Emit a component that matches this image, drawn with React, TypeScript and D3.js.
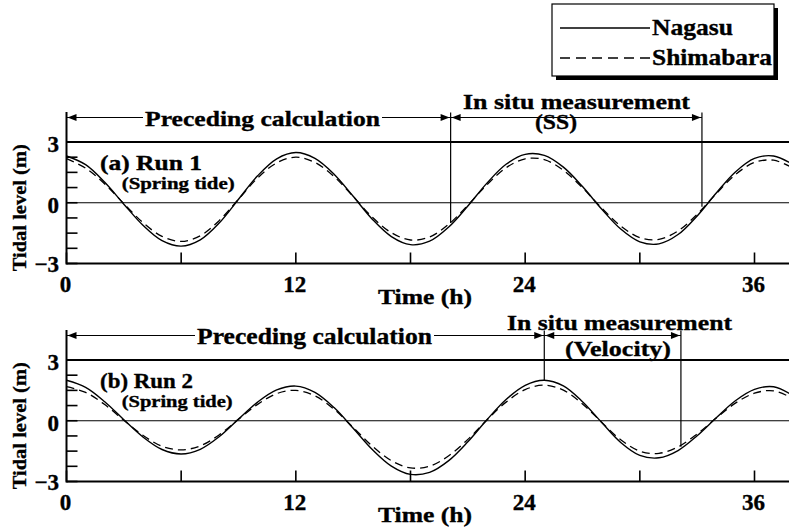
import React from 'react';
import * as d3 from 'd3';

// sample times (h)
const hours = d3.range(0, 39);

// Run 1 (spring tide), tidal level (m)
const run1Nagasu = [2.31, 1.88, 1.01, -0.07, -1.11, -1.87, -2.14, -1.83, -0.99, 0.17, 1.33, 2.17, 2.48, 2.19, 1.41, 0.32, -0.81, -1.67, -2.07, -1.90, -1.20, -0.16, 0.97, 1.90, 2.39, 2.34, 1.76, 0.80, -0.31, -1.30, -1.93, -2.03, -1.57, -0.65, 0.48, 1.52, 2.19, 2.31, 1.89];
const run1Shimabara = [2.18, 1.71, 0.93, -0.04, -0.98, -1.66, -1.91, -1.63, -0.87, 0.17, 1.22, 1.97, 2.25, 1.99, 1.29, 0.31, -0.71, -1.48, -1.84, -1.69, -1.06, -0.12, 0.89, 1.73, 2.17, 2.13, 1.60, 0.74, -0.26, -1.15, -1.72, -1.81, -1.39, -0.57, 0.45, 1.39, 1.99, 2.10, 1.72];

// Run 2 (spring tide)
const run2Nagasu = [2.00, 1.65, 0.94, 0.05, -0.80, -1.42, -1.64, -1.41, -0.78, 0.08, 0.92, 1.52, 1.71, 1.40, 0.65, -0.37, -1.42, -2.24, -2.65, -2.55, -1.97, -1.04, 0.05, 1.05, 1.75, 2.00, 1.72, 0.94, -0.08, -1.07, -1.71, -1.83, -1.47, -0.74, 0.15, 0.99, 1.55, 1.68, 1.25];
const run2Shimabara = [1.68, 1.40, 0.80, 0.02, -0.72, -1.26, -1.44, -1.24, -0.69, 0.07, 0.81, 1.34, 1.50, 1.23, 0.57, -0.33, -1.25, -1.97, -2.33, -2.24, -1.73, -0.92, 0.04, 0.92, 1.54, 1.76, 1.51, 0.83, -0.07, -0.94, -1.50, -1.61, -1.29, -0.65, 0.13, 0.87, 1.36, 1.48, 1.10];

// phase boundaries (h): start of preceding calc, start / end of in situ measurement
const run1Phases = [0, 20.1, 33.25];
const run2Phases = [0, 25.0, 32.15];
// tidal level where the marker lines stop
const run1Marks = [-1.0, -0.2];
const run2Marks = [2.0, -1.28];

const xTicks = [0, 6, 12, 18, 24, 30, 36];
const xTickLabels = [0, 12, 24, 36];
const yTicks = [-3, -2.25, -1.5, -0.75, 0, 0.75, 1.5, 2.25, 3];
const yTickLabels = [-3, 0, 3];

const FONT = '"Liberation Serif", "Times New Roman", Times, serif';
const W = 789;
const H = 530;

const x = d3.scaleLinear().domain([0, 36]).range([66.5, 754.5]);

const T = ({ x, y, size, w, anchor = 'middle', children, transform }: any) => (
  <text x={x} y={y} textAnchor={anchor}
    style={{ fontFamily: FONT, fontSize: size, fontWeight: 'bold' }}
    stroke="#000" strokeWidth={0.35}
    textLength={w} lengthAdjust={w ? 'spacingAndGlyphs' : undefined} transform={transform} fill="#000">
    {children}
  </text>
);

const head = (px: number, py: number, dir: number) =>
  `M${px},${py}L${px - dir * 9},${py - 3.5}L${px - dir * 9},${py + 3.5}Z`;

const Panel = ({ top, nag, shi, phases, marks, label, precCx, precW, precSize, situCx, situW, situY, subText, subCx, subW, subY }: any) => {
  const y = d3.scaleLinear().domain([-3, 3]).range([top + 121.5, top]);
  const arrowY = top - 24.5;
  const x0 = x(0);
  const line = d3.line<number>().x((_, i) => x(hours[i])).y(d => y(d)).curve(d3.curveCatmullRom.alpha(0.5));
  const xa = x(phases[1]);
  const xb = x(phases[2]);
  return (
    <g>
      {/* horizontal reference lines */}
      <line x1={x0} x2={W} y1={y(3)} y2={y(3)} stroke="#000" strokeWidth={2} />
      <line x1={x0} x2={W} y1={y(0)} y2={y(0)} stroke="#000" strokeWidth={1} />
      <line x1={x0} x2={W} y1={y(-3)} y2={y(-3)} stroke="#000" strokeWidth={2} />
      <line x1={x0} x2={x0} y1={y(-3) + 1} y2={arrowY - 5.5} stroke="#000" strokeWidth={2} />
      {yTicks.map(t => <line key={t} x1={x0} x2={x0 + 11} y1={y(t)} y2={y(t)} stroke="#000" strokeWidth={1.6} />)}
      {xTicks.map(t => <line key={t} x1={x(t)} x2={x(t)} y1={y(-3)} y2={y(-3) - 11} stroke="#000" strokeWidth={1.6} />)}
      {yTickLabels.map(t => (
        <T key={t} x={59} y={y(t) + (t === 3 ? 9.5 : t === 0 ? 10 : 8.5)} size={23} anchor="end">{t < 0 ? `\u2212${-t}` : t}</T>
      ))}
      {xTickLabels.map(t => <T key={t} x={x(t) - 1} y={y(-3) + 28.5} size={23}>{t}</T>)}
      <T x={425} y={y(-3) + 40} size={21} w={94}>Time (h)</T>
      <T x={26} y={y(0) + 5} size={19} w={127} transform={`rotate(-90,26,${y(0) + 5})`}>Tidal level (m)</T>

      {/* curves */}
      <path d={line(nag) || ''} fill="none" stroke="#000" strokeWidth={1.4} />
      <path d={line(shi) || ''} fill="none" stroke="#000" strokeWidth={1.3} strokeDasharray="8,5" />

      {/* phase arrows */}
      <line x1={x0} x2={precCx - precW / 2 - 2} y1={arrowY} y2={arrowY} stroke="#000" strokeWidth={1} />
      <line x1={precCx + precW / 2 + 2} x2={xa} y1={arrowY} y2={arrowY} stroke="#000" strokeWidth={1} />
      <path d={head(x0 + 1, arrowY, -1)} fill="#000" />
      <path d={head(xa - 1, arrowY, 1)} fill="#000" />
      <T x={precCx} y={arrowY + 8} size={precSize} w={precW}>Preceding calculation</T>
      <line x1={xa} x2={xb} y1={arrowY} y2={arrowY} stroke="#000" strokeWidth={1} />
      <path d={head(xa + 1, arrowY, -1)} fill="#000" />
      <path d={head(xb - 1, arrowY, 1)} fill="#000" />
      <line x1={xa} x2={xa} y1={arrowY - 5} y2={y(marks[0])} stroke="#000" strokeWidth={1.2} />
      <line x1={xb} x2={xb} y1={arrowY - 5} y2={y(marks[1])} stroke="#000" strokeWidth={1.2} />
      <T x={situCx} y={situY} size={22} w={situW}>In situ measurement</T>
      <T x={subCx} y={subY} size={22} w={subW}>{subText}</T>

      {/* run label */}
      <T x={100} y={top + 28} size={22} w={label[2]} anchor="start">{label[0]}</T>
      <T x={121.7} y={top + 46.5} size={17} w={label[3]} anchor="start">{label[1]}</T>
    </g>
  );
};

export default function App() {
  return (
    <svg width={W} height={H} style={{ position: 'absolute', left: 0, top: 0, background: '#fff' }}>
      <rect width={W} height={H} fill="#fff" />
      {/* legend */}
      <rect x={556} y={8} width={222} height={72} fill="#000" />
      <rect x={552} y={4} width={222} height={72} fill="#fff" stroke="#000" strokeWidth={1.2} />
      <line x1={560} x2={650} y1={28} y2={28} stroke="#000" strokeWidth={1.3} />
      <line x1={560} x2={650} y1={58} y2={58} stroke="#000" strokeWidth={1.3} strokeDasharray="10,6" />
      <T x={652} y={35} size={23} w={81} anchor="start">Nagasu</T>
      <T x={652} y={65} size={23} w={120} anchor="start">Shimabara</T>

      <Panel top={142} nag={run1Nagasu} shi={run1Shimabara} phases={run1Phases} marks={run1Marks}
        label={['(a) Run 1', '(Spring tide)', 102, 113]}
        precCx={262.5} precW={235} precSize={22}
        situCx={576.5} situW={227} situY={109}
        subText="(SS)" subCx={556} subW={42} subY={129} />
      <Panel top={360} nag={run2Nagasu} shi={run2Shimabara} phases={run2Phases} marks={run2Marks}
        label={['(b) Run 2', '(Spring tide)', 93, 111]}
        precCx={314.5} precW={235} precSize={23}
        situCx={619.5} situW={225} situY={330}
        subText="(Velocity)" subCx={618} subW={106} subY={356} />
    </svg>
  );
}
